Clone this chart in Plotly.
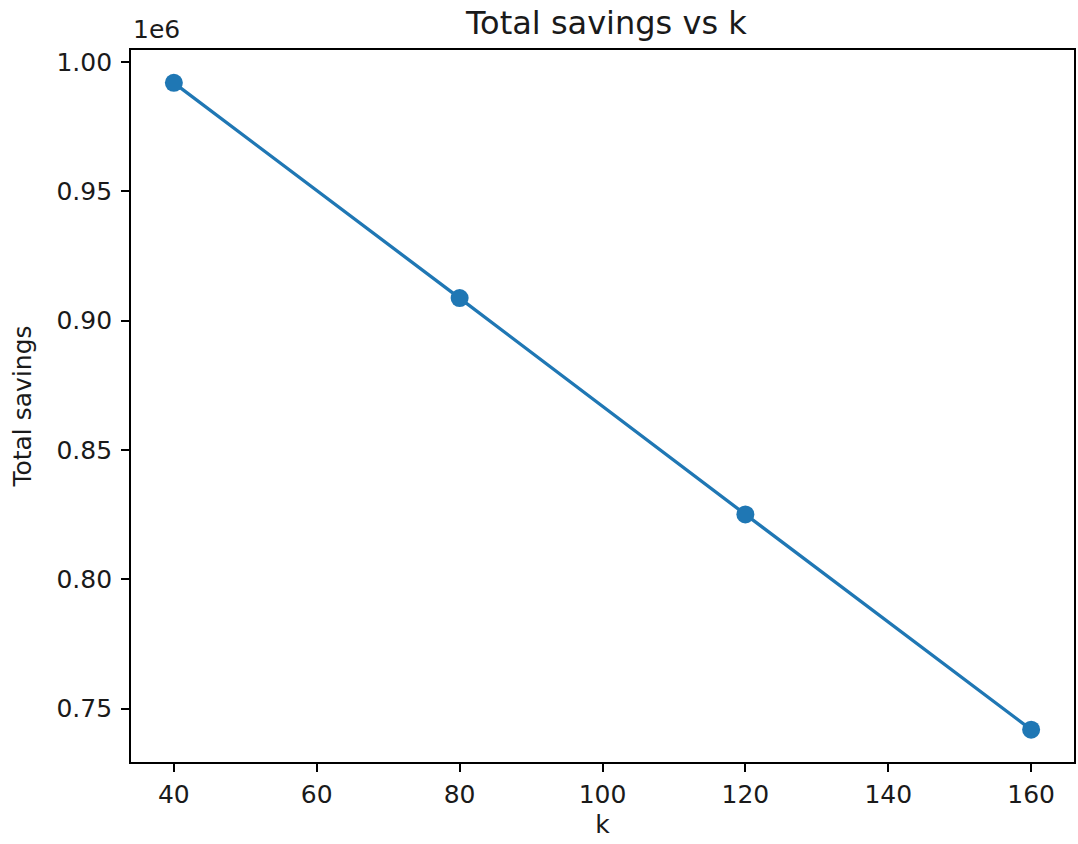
import plotly.graph_objects as go

k_values = [40, 80, 120, 160]
total_savings = [991900, 908700, 825100, 741900]
y_tick_vals = [750000, 800000, 850000, 900000, 950000, 1000000]
y_tick_text = ["0.75", "0.80", "0.85", "0.90", "0.95", "1.00"]
x_tick_vals = [40, 60, 80, 100, 120, 140, 160]

FONT = "DejaVu Sans"
C0 = "#1f77b4"
TXT = "#1a1a1a"

fig = go.Figure()
fig.add_trace(go.Scatter(
    x=k_values, y=total_savings, mode="lines+markers",
    line=dict(color=C0, width=3.3),
    marker=dict(color=C0, size=18),
    showlegend=False,
))

axis_common = dict(
    showgrid=False, zeroline=False, showline=True, linecolor="black", linewidth=1.8,
    mirror=True, ticks="outside", ticklen=8, tickwidth=1.8, tickcolor="black",
    tickfont=dict(family=FONT, size=25, color=TXT),
)

fig.update_layout(
    width=1078, height=844,
    margin=dict(l=131, r=2, t=50, b=82),
    paper_bgcolor="white", plot_bgcolor="white",
    font=dict(family=FONT, color=TXT),
    title=dict(text="Total savings vs k", x=0.5625, xanchor="center",
               y=1 - 34/844, yanchor="bottom", yref="container",
               font=dict(family=FONT, size=32, color=TXT), pad=dict(b=0)),
    xaxis=dict(range=[34, 166], tickvals=x_tick_vals,
               title=dict(text="k", font=dict(family=FONT, size=25, color=TXT), standoff=8),
               ticklabelstandoff=1, **axis_common),
    yaxis=dict(range=[729400, 1004600], tickvals=y_tick_vals, ticktext=y_tick_text,
               title=dict(text="Total savings", font=dict(family=FONT, size=25, color=TXT), standoff=18),
               ticklabelstandoff=4, **axis_common),
    annotations=[dict(text="1e6", xref="paper", yref="paper", x=0, y=1,
                      xanchor="left", yanchor="bottom", yshift=4, showarrow=False,
                      font=dict(family=FONT, size=25, color=TXT))],
)

fig.write_html(
    "out.html",
    config={"displayModeBar": False},
    post_script="document.body.style.margin='0';document.body.style.overflow='hidden';",
)
